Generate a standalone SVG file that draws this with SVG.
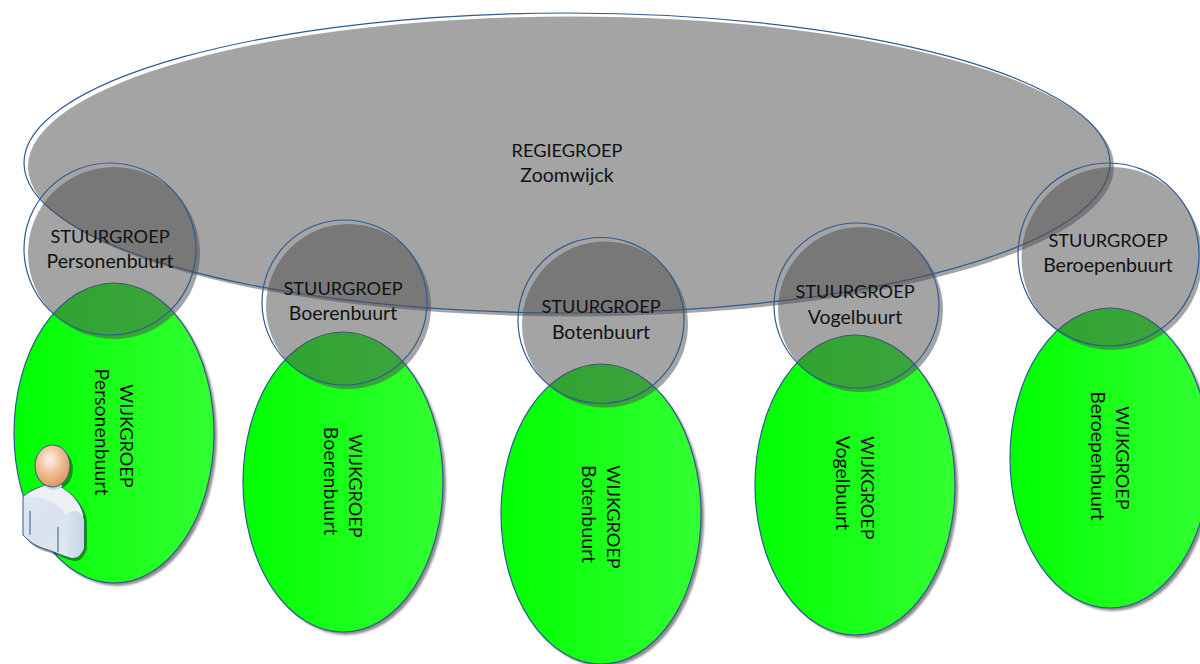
<svg xmlns="http://www.w3.org/2000/svg" width="1200" height="664" viewBox="0 0 1200 664">
<style>
.o{fill:none;stroke:#2f5b90;stroke-width:1.2}
.g{fill:url(#gr)}
.gs{fill:#505050;fill-opacity:.52}
.sh{fill:#000;fill-opacity:.45;filter:url(#b)}
.p{stroke:#2f5b90;stroke-width:1}
text{font-family:Lato,"Open Sans",sans-serif;font-size:18.2px;fill:#111;text-anchor:middle}
.l{font-size:19.5px}
</style>
<defs>
<linearGradient id="gr" x1="0" x2="1" y1="0" y2="0"><stop offset="0" stop-color="#00ff00"/><stop offset="1" stop-color="#33ff33"/></linearGradient>
<radialGradient id="hd" cx=".42" cy=".35" r=".7"><stop offset="0" stop-color="#fdf3ea"/><stop offset=".5" stop-color="#eebd93"/><stop offset="1" stop-color="#d5935c"/></radialGradient>
<linearGradient id="bd" x1="0" x2="1" y1="0" y2="1"><stop offset="0" stop-color="#dfe7f0"/><stop offset=".5" stop-color="#d9e2ee"/><stop offset="1" stop-color="#e6ecf3"/></linearGradient>
<linearGradient id="arm" x1="0" x2="1" y1="0" y2="0"><stop offset="0" stop-color="#dbe5f0"/><stop offset="1" stop-color="#c6d4e6"/></linearGradient>
<filter id="b" x="-10%" y="-10%" width="120%" height="120%"><feGaussianBlur stdDeviation="1"/></filter>
</defs>
<g id="wijk-personenbuurt"><ellipse class="sh" cx="117" cy="436" rx="100" ry="150"/><ellipse class="g" cx="114" cy="433" rx="100" ry="150"/><ellipse class="o" cx="114" cy="433" rx="100" ry="150"/><text transform="translate(120 436) rotate(90)">WIJKGROEP</text><text class="l" transform="translate(95 432) rotate(90)">Personenbuurt</text></g>
<g id="wijk-boerenbuurt"><ellipse class="sh" cx="346" cy="485" rx="100" ry="150"/><ellipse class="g" cx="343" cy="482" rx="100" ry="150"/><ellipse class="o" cx="343" cy="482" rx="100" ry="150"/><text transform="translate(349 486) rotate(90)">WIJKGROEP</text><text class="l" transform="translate(324 481) rotate(90)">Boerenbuurt</text></g>
<g id="wijk-botenbuurt"><ellipse class="sh" cx="604" cy="517" rx="100" ry="150"/><ellipse class="g" cx="601" cy="514" rx="100" ry="150"/><ellipse class="o" cx="601" cy="514" rx="100" ry="150"/><text transform="translate(607 517) rotate(90)">WIJKGROEP</text><text class="l" transform="translate(582 514) rotate(90)">Botenbuurt</text></g>
<g id="wijk-vogelbuurt"><ellipse class="sh" cx="858" cy="488" rx="100" ry="150"/><ellipse class="g" cx="855" cy="485" rx="100" ry="150"/><ellipse class="o" cx="855" cy="485" rx="100" ry="150"/><text transform="translate(861 488) rotate(90)">WIJKGROEP</text><text class="l" transform="translate(836 483) rotate(90)">Vogelbuurt</text></g>
<g id="wijk-beroepenbuurt"><ellipse class="sh" cx="1113" cy="461" rx="100" ry="150"/><ellipse class="g" cx="1110" cy="458" rx="100" ry="150"/><ellipse class="o" cx="1110" cy="458" rx="100" ry="150"/><text transform="translate(1116 458) rotate(90)">WIJKGROEP</text><text class="l" transform="translate(1091 456) rotate(90)">Beroepenbuurt</text></g>
<g id="regiegroep"><ellipse class="gs" cx="571" cy="166.500" rx="543" ry="150"/><ellipse class="o" cx="567" cy="163" rx="543" ry="150"/><text x="567" y="157">REGIEGROEP</text><text class="l" x="567" y="182">Zoomwijck</text></g>
<g id="stuur-personenbuurt"><circle class="gs" cx="114" cy="253" r="86"/><circle class="o" cx="110" cy="249" r="86"/><text x="110" y="243">STUURGROEP</text><text class="l" x="110" y="268">Personenbuurt</text></g>
<g id="stuur-boerenbuurt"><circle class="gs" cx="348.500" cy="306.500" r="82.500"/><circle class="o" cx="344.500" cy="302.500" r="82.500"/><text x="343" y="295">STUURGROEP</text><text class="l" x="343" y="320">Boerenbuurt</text></g>
<g id="stuur-botenbuurt"><circle class="gs" cx="605" cy="324.500" r="83"/><circle class="o" cx="601" cy="320.500" r="83"/><text x="601" y="313">STUURGROEP</text><text class="l" x="601" y="339">Botenbuurt</text></g>
<g id="stuur-vogelbuurt"><circle class="gs" cx="860.500" cy="309.500" r="82.500"/><circle class="o" cx="856.500" cy="305.500" r="82.500"/><text x="855" y="298">STUURGROEP</text><text class="l" x="855" y="324">Vogelbuurt</text></g>
<g id="stuur-beroepenbuurt"><ellipse class="gs" cx="1112" cy="258.500" rx="90.500" ry="91.500"/><ellipse class="o" cx="1108.500" cy="254.500" rx="90.500" ry="91.500"/><text x="1108" y="247">STUURGROEP</text><text class="l" x="1108" y="272">Beroepenbuurt</text></g>
<g id="persoon">
<path d="M26 500C29 495 44 487 47 487L65 490C77 496 87 511 87 523V549C84 557 81 561 75 561C67 560 61 556 48 552C41 550 32 547 26 538Z" fill="#000" fill-opacity=".4"/>
<ellipse cx="55" cy="469" rx="18" ry="21" fill="#000" fill-opacity=".4"/>
<path d="M23 497C26 492 41 486 44 486L62 488C74 494 84 508 84 520V548C81 555 78 558 72 558C64 557 58 553 45 549C38 547 29 542 23 535Z" fill="url(#bd)" class="p"/>
<path d="M66 515C72 509 80 510 84 520V548C81 555 78 558 72 558C68 558 66 553 66 548Z" fill="url(#arm)"/>
<path d="M25 497C28 493 42 487 44 486L62 488C72 494 80 503 83 515C79 509 72 509 66 515C60 503 42 495 25 497Z" fill="#edf1f5"/>
<path d="M44 485Q52 494 62 487L61 478H45Z" fill="#ccd6e4"/>
<path d="M30 511V535M58 527V552" fill="none" class="p"/>
<ellipse cx="52.500" cy="466" rx="17.500" ry="21" fill="url(#hd)" class="p"/>
</g>
</svg>
